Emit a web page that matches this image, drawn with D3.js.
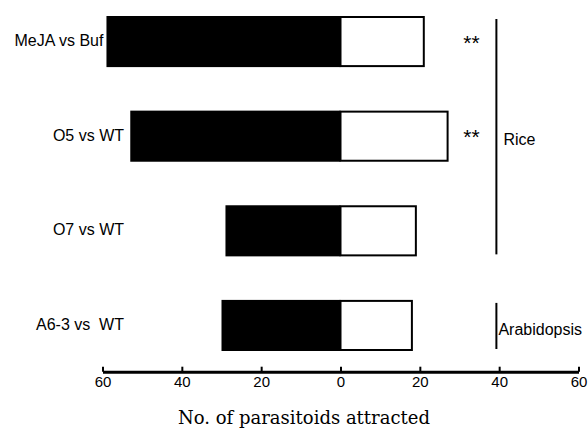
<!DOCTYPE html>
<html>
<head>
<meta charset="utf-8">
<script src="https://cdn.jsdelivr.net/npm/d3@7"></script>
<style>
  body { margin: 0; background: #fff; }
  svg { display: block; }
</style>
</head>
<body>
<div id="chart"></div>
<script>
// data
const categories = ["MeJA vs Buf", "O5 vs WT", "O7 vs WT", "A6-3 vs  WT"];
const treatedCounts = [59, 53, 29, 30];   // black bars, drawn to the left
const controlCounts = [21, 27, 19, 18];   // white bars, drawn to the right
const significance = ["**", "**", "", ""];
const plantGroup = ["Rice", "Rice", "Rice", "Arabidopsis"];
const groupNames = ["Rice", "Arabidopsis"];
const xTicks = [-60, -40, -20, 0, 20, 40, 60];
const xTitle = "No. of parasitoids attracted";

const width = 588;
const height = 428;
const axisY = 371.7;

const svg = d3.select("#chart")
    .append("svg")
    .attr("width", width)
    .attr("height", height);

const x = d3.scaleLinear()
    .domain([-60, 60])
    .range([102.5, 578.5]);

const y = d3.scaleBand()
    .domain(categories)
    .range([16, 351])
    .paddingInner(0.46);

const rows = categories.map((c, i) => ({
    name: c,
    left: treatedCounts[i],
    right: controlCounts[i],
    sig: significance[i],
    group: plantGroup[i]
}));

// black bars (left side)
svg.selectAll("rect.left")
    .data(rows)
    .enter()
    .append("rect")
    .attr("class", "left")
    .attr("x", d => x(-d.left))
    .attr("y", d => y(d.name))
    .attr("width", d => x(0) - x(-d.left))
    .attr("height", y.bandwidth())
    .attr("fill", "#000");

// white bars (right side)
svg.selectAll("rect.right")
    .data(rows)
    .enter()
    .append("rect")
    .attr("class", "right")
    .attr("x", x(0))
    .attr("y", d => y(d.name) + 1)
    .attr("width", d => x(d.right) - x(0))
    .attr("height", y.bandwidth() - 2)
    .attr("fill", "#fff")
    .attr("stroke", "#000")
    .attr("stroke-width", 2);

// category labels, pushed left when the bar is long
svg.selectAll("text.cat")
    .data(rows)
    .enter()
    .append("text")
    .attr("class", "cat")
    .attr("x", d => Math.min(124, x(-d.left) - 3))
    .attr("y", d => y(d.name) + y.bandwidth() / 2 - 1)
    .attr("dy", "0.35em")
    .attr("text-anchor", "end")
    .style("white-space", "pre")
    .attr("font-family", "Liberation Sans, Arial, sans-serif")
    .attr("font-size", 16)
    .text(d => d.name);

// significance stars
svg.selectAll("text.sig")
    .data(rows.filter(d => d.sig))
    .enter()
    .append("text")
    .attr("class", "sig")
    .attr("x", x(33))
    .attr("y", d => y(d.name) + y.bandwidth() / 2 + 8)
    .attr("text-anchor", "middle")
    .attr("font-family", "Liberation Sans, Arial, sans-serif")
    .attr("font-size", 21)
    .text(d => d.sig);

// group brackets
const bracketX = x(39.3);
groupNames.forEach(g => {
    const members = rows.filter(d => d.group === g);
    const top = y(members[0].name) + 3;
    const bottom = y(members[members.length - 1].name) + y.bandwidth() - 2;
    svg.append("line")
        .attr("x1", bracketX).attr("x2", bracketX)
        .attr("y1", top).attr("y2", bottom)
        .attr("stroke", "#000")
        .attr("stroke-width", 2);
    const label = svg.append("text")
        .attr("y", (top + bottom) / 2 + 3)
        .attr("dy", "0.35em")
        .attr("font-family", "Liberation Sans, Arial, sans-serif")
        .attr("font-size", 16)
        .text(g);
    const w = label.node().getComputedTextLength();
    label.attr("x", Math.min(bracketX + 7, width - 6 - w));
});

// x axis, ticks pointing up
const axis = svg.append("g")
    .attr("transform", `translate(0, ${axisY})`)
    .call(d3.axisBottom(x)
        .tickValues(xTicks)
        .tickFormat(d => Math.abs(d))
        .tickSizeInner(-5)
        .tickSizeOuter(0)
        .tickPadding(5));

axis.select(".domain")
    .attr("stroke", "#000")
    .attr("stroke-width", 3);
axis.selectAll(".tick line")
    .attr("stroke", "#000")
    .attr("stroke-width", 2);
axis.selectAll(".tick text")
    .attr("fill", "#000")
    .attr("font-family", "Liberation Sans, Arial, sans-serif")
    .attr("font-size", 15);

// axis title
svg.append("text")
    .attr("x", 304)
    .attr("y", 424)
    .attr("text-anchor", "middle")
    .attr("font-family", "DejaVu Serif, serif")
    .attr("font-size", 18)
    .text(xTitle);
</script>
</body>
</html>
